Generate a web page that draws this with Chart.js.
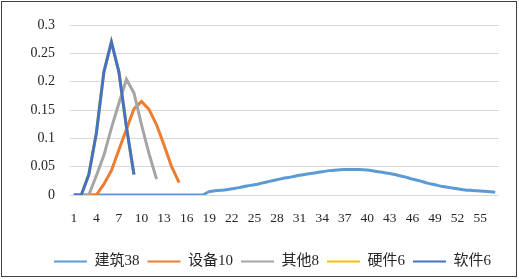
<!DOCTYPE html>
<html>
<head>
<meta charset="utf-8">
<script src="https://cdn.jsdelivr.net/npm/chart.js@4/dist/chart.umd.min.js"></script>
<style>
  html, body { margin: 0; padding: 0; background: #fff; }
  #wrap { position: relative; width: 519px; height: 279px; }
  #frame { position: absolute; left: 1px; top: 1px; width: 516px; height: 276px;
           box-sizing: border-box; border: 1.5px solid #404040; pointer-events: none; }
</style>
</head>
<body>
<div id="wrap">
  <canvas id="chart" width="519" height="279"></canvas>
  <div id="frame"></div>
</div>
<script>
// Category labels (x axis)
const categories = [1,2,3,4,5,6,7,8,9,10,11,12,13,14,15,16,17,18,19,20,
  21,22,23,24,25,26,27,28,29,30,31,32,33,34,35,36,37,38,39,40,
  41,42,43,44,45,46,47,48,49,50,51,52,53,54,55,56,57];

const seriesNames = ['建筑38', '设备10', '其他8', '硬件6', '软件6'];
const seriesColors = ['#5B9BD5', '#ED7D31', '#A5A5A5', '#FFC000', '#4472C4'];

// Values
const jianzhu = [0,0,0,0,0,0,0,0,0,0,0,0,0,0,0,0,0,0,
  0.006,0.008,0.009,0.011,0.013,0.016,0.018,0.021,0.024,0.027,
  0.030,0.032,0.035,0.037,0.039,0.041,0.043,0.044,0.045,0.045,
  0.045,0.044,0.042,0.040,0.038,0.035,0.032,0.028,0.025,0.021,
  0.018,0.015,0.013,0.011,0.009,0.008,0.007,0.006,0.005];

const shebei = [null,null,0,0,0.019,0.043,0.080,0.116,0.152,0.165,0.151,0.124,0.088,0.050,0.022];
const qita = [null,0,0,0.034,0.070,0.118,0.162,0.204,0.180,0.124,0.073,0.028];
const yingjian = [0,0,0.036,0.109,0.217,0.270,0.217,0.120,0.036];
const ruanjian = [0,0,0.036,0.109,0.217,0.270,0.217,0.120,0.036];

const yTicks = [0, 0.05, 0.1, 0.15, 0.2, 0.25, 0.3];

const FONT = "'Liberation Serif', 'Noto Sans CJK SC', serif";

const allSeries = [jianzhu, shebei, qita, yingjian, ruanjian];

const datasets = allSeries.map((vals, i) => ({
    label: seriesNames[i],
    data: vals,
    borderColor: seriesColors[i],
    backgroundColor: seriesColors[i],
    borderWidth: 3,
    pointRadius: 0,
    pointHoverRadius: 0,
    tension: 0,
    cubicInterpolationMode: i === 0 ? 'monotone' : 'default',
    spanGaps: false,
    order: allSeries.length - i   // later series on top, like the original
}));

new Chart(document.getElementById('chart').getContext('2d'), {
    type: 'line',
    data: { labels: categories, datasets },
    options: {
        responsive: false,
        animation: false,
        layout: { padding: { left: 0, right: 20, top: 25, bottom: 0 } },
        plugins: {
            tooltip: { enabled: false },
            legend: {
                position: 'bottom',
                align: 'end',
                labels: {
                    font: { family: FONT, size: 15 },
                    color: '#262626',
                    boxWidth: 33,
                    boxHeight: 2,
                    padding: 8,
                    generateLabels: (chart) => {
                        const items = Chart.defaults.plugins.legend.labels.generateLabels(chart);
                        items.forEach(it => { it.lineWidth = 0; it.fillStyle = it.strokeStyle; });
                        return items.sort((a, b) => a.datasetIndex - b.datasetIndex);
                    }
                }
            }
        },
        scales: {
            x: {
                offset: true,
                grid: { display: false },
                border: { display: false },
                ticks: {
                    autoSkip: false,
                    maxRotation: 0,
                    padding: 7,
                    color: '#262626',
                    font: { family: FONT, size: 13.5 },
                    callback: (v, idx) => idx % 3 === 0 ? categories[idx] : ''
                },
                afterFit: (scale) => { scale.height = 51; }
            },
            y: {
                min: 0,
                max: 0.3,
                afterBuildTicks: (scale) => { scale.ticks = yTicks.map(v => ({ value: v })); },
                grid: { color: '#D9D9D9', lineWidth: 1, drawTicks: false },
                border: { display: false },
                ticks: {
                    padding: 15,
                    color: '#262626',
                    font: { family: FONT, size: 14 },
                    callback: (v) => String(+v.toFixed(2))
                },
                afterFit: (scale) => { scale.width = 70; }
            }
        }
    }
});
</script>
</body>
</html>
